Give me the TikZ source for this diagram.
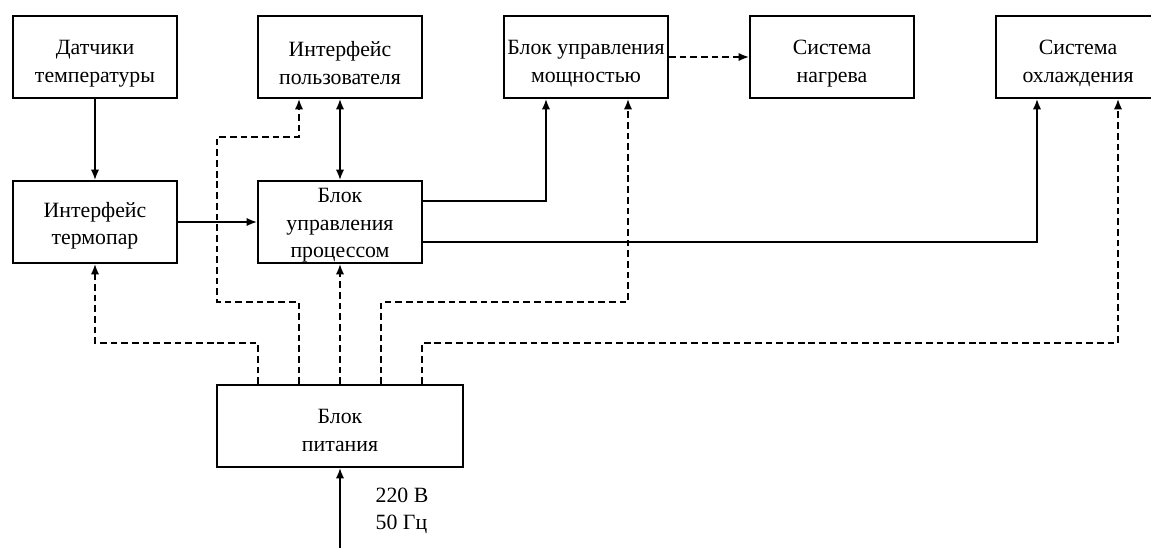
\documentclass[tikz, border=0pt]{standalone}
\usepackage{fontspec}
\setmainfont{Liberation Serif}
\usepackage{tikz}
\usetikzlibrary{arrows.meta, calc}
\tikzset{block/.style = {draw, line width = 1.3pt, minimum width = 4.1cm, minimum height = 2.05cm, align = center, inner sep = 0, font = \fontsize{15.5}{19.5}\selectfont}}
\tikzset{lower/.style = {execute at begin node = {\rule{0pt}{#1}}}}
\tikzset{arr/.style = {line width = 1.3pt, -{Latex[length = 7.5pt, width = 6pt]}}}
\tikzset{dsh/.style = {arr, dash pattern = on 4.8pt off 2.8pt}}

\begin{document}
\begin{tikzpicture}[x = 0.025cm, y = -0.025cm]
    \useasboundingbox (0, 0) rectangle (1151, 547);

    \node [block, lower = 39pt] (dat) at (95, 57) {Датчики\\температуры};
    \node [block, lower = 39pt] (ui) at (340, 57) {Интерфейс\\пользователя};
    \node [block, lower = 39pt] (pwr) at (586, 57) {Блок управления\\мощностью};
    \node [block, lower = 39pt] (heat) at (832, 57) {Система\\нагрева};
    \node [block, lower = 39pt] (cool) at (1078, 57) {Система\\охлаждения};

    \node [block, lower = 36pt] (tc) at (95, 222) {Интерфейс\\термопар};
    \node [block, lower = 54pt] (cpu) at (340, 222) {Блок\\управления\\процессом};

    \node [block, lower = 36pt, minimum width = 6.15cm] (psu) at (340, 426) {Блок\\питания};

    \coordinate (mains) at (340, 552);
    \node [align = left, font = \fontsize{15.5}{19.5}\selectfont] (volt) at (402, 511) {220 В\\50 Гц};

    \draw [arr] (dat) -- (tc);
    \draw [arr] (tc) -- (cpu);
    \draw [arr, {Latex[length = 7.5pt, width = 6pt]}-{Latex[length = 7.5pt, width = 6pt]}] (cpu) -- (ui);
    \draw [arr] ($(cpu.east) + (0, -21)$) -| ($(pwr.south) + (-40, 0)$);
    \draw [arr] ($(cpu.east) + (0, 20)$) -| ($(cool.south) + (-41, 0)$);
    \draw [dsh] (pwr) -- (heat);
    \draw [arr] (mains) -- (psu);

    \draw [dsh] ($(psu.north) + (-82, 0)$) -- ++(0, -41) -| (tc.south);
    \draw [dsh] ($(psu.north) + (-41, 0)$) -- ++(0, -82) -- ++(-82, 0)
    -- ++(0, -165) -- ++(82, 0) -- ($(ui.south) + (-41, 0)$);
    \draw [dsh] (psu) -- (cpu);
    \draw [dsh] ($(psu.north) + (41, 0)$) -- ++(0, -82) -| ($(pwr.south) + (42, 0)$);
    \draw [dsh] ($(psu.north) + (82, 0)$) -- ++(0, -41) -| ($(cool.south) + (40, 0)$);
  \end{tikzpicture}
\end{document}
